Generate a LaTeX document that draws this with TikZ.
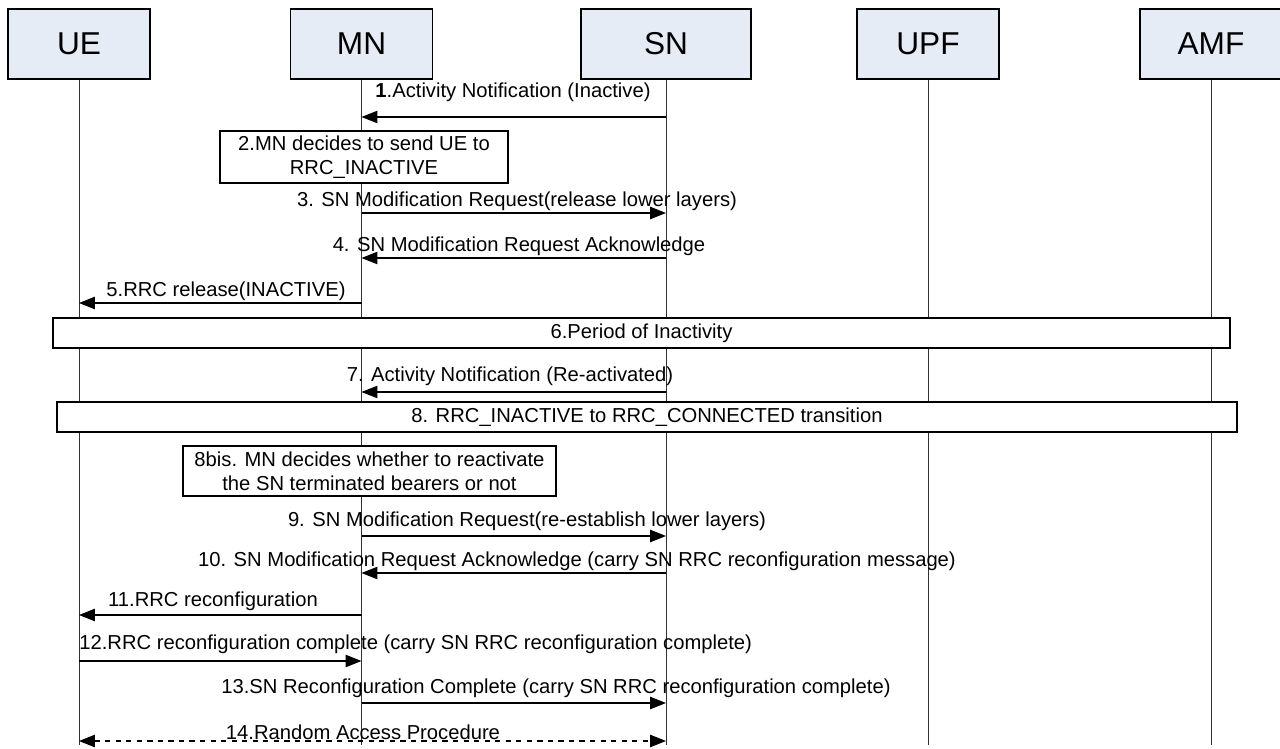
\documentclass[tikz,border=0pt]{standalone}
\usepackage{fontspec}
\setmainfont{Liberation Sans}
\usetikzlibrary{arrows.meta,positioning}
\definecolor{headfill}{RGB}{230,236,246}
\definecolor{lifegray}{RGB}{50,50,50}

\begin{document}
\begin{tikzpicture}[x=0.02cm, y=-0.02cm,
    every node/.style={font=\fontsize{11.5}{13.5}\selectfont},
    entity/.style={draw, fill=headfill, line width=0.7pt, minimum width=2.84cm,
      minimum height=1.4cm, font=\fontsize{18}{20}\selectfont},
    life/.style={lifegray, line width=0.5pt},
    msg/.style={line width=0.6pt, -{Triangle[length=9pt,width=7pt]}},
    stepbox/.style={draw, fill=white, line width=0.8pt, align=center, inner sep=0pt}]
    \useasboundingbox (0,0) rectangle (1280,749);
    % entities
    \node[entity] (ue)  at (79, 44) {UE};
    \node[entity] (mn)  at (361.5,44) {MN};
    \node[entity, minimum width=3.4cm] (sn) at (666, 44) {SN};
    \node[entity] (upf) at (928, 44) {UPF};
    \node[entity] (amf) at (1211,44) {AMF};
    \foreach \n in {ue,mn,sn,upf,amf}
      \draw[life] (\n.south) -- (\n.south |- 0,745);
    % steps
    \node (l1) at (513,92) {\textbf{1}.Activity Notification (Inactive)};
    \draw[msg] (sn |- 0,117) -- (mn |- 0,117);
    \node[stepbox, minimum width=5.76cm, minimum height=1.04cm] (s2) at (364,157)
      {2.MN decides to send UE to\\RRC\_INACTIVE};
    \node (l3) at (517,201) {3. SN Modification Request(release lower layers)};
    \draw[msg] (mn |- 0,213) -- (sn |- 0,213);
    \node (l4) at (519,246) {4. SN Modification Request Acknowledge};
    \draw[msg] (sn |- 0,258) -- (mn |- 0,258);
    \node (l5) at (226,291) {5.RRC release(INACTIVE)};
    \draw[msg] (mn |- 0,303) -- (ue |- 0,303);
    \node[stepbox, minimum width=23.54cm, minimum height=0.6cm] (s6) at (641.5,333)
      {6.Period of Inactivity};
    \node (l7) at (510,376) {7. Activity Notification (Re-activated)};
    \draw[msg] (sn |- 0,392) -- (mn |- 0,392);
    \node[stepbox, minimum width=23.6cm, minimum height=0.6cm] (s8) at (647,417)
      {8. RRC\_INACTIVE to RRC\_CONNECTED transition};
    \node[stepbox, minimum width=7.46cm, minimum height=1.0cm] (s8b) at (369.5,471)
      {8bis. MN decides whether to reactivate\\the SN terminated bearers or not};
    \node (l9) at (527,521) {9. SN Modification Request(re-establish lower layers)};
    \draw[msg] (mn |- 0,536) -- (sn |- 0,536);
    \node (l10) at (577,561) {10. SN Modification Request Acknowledge (carry SN RRC reconfiguration message)};
    \draw[msg] (sn |- 0,573) -- (mn |- 0,573);
    \node (l11) at (213,601) {11.RRC reconfiguration};
    \draw[msg] (mn |- 0,615) -- (ue |- 0,615);
    \node[anchor=west, inner sep=0pt] (l12) at (79,644) {12.RRC reconfiguration complete (carry SN RRC reconfiguration complete)};
    \draw[msg] (ue |- 0,661) -- (mn |- 0,661);
    \node (l13) at (556,688) {13.SN Reconfiguration Complete (carry SN RRC reconfiguration complete)};
    \draw[msg] (mn |- 0,703) -- (sn |- 0,703);
    \node (l14) at (363,732) {14.Random Access Procedure};
    \draw[msg, dashed, {Triangle[length=9pt,width=7pt]}-{Triangle[length=9pt,width=7pt]}]
      (ue |- 0,741) -- (sn |- 0,741);
\end{tikzpicture}
\end{document}
